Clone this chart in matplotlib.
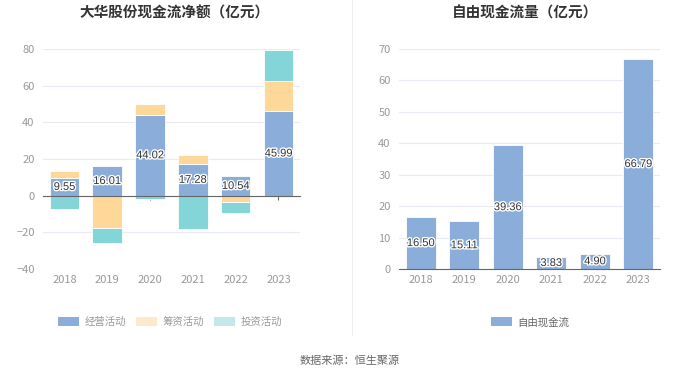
import numpy as np
import matplotlib
matplotlib.use("Agg")
import matplotlib.pyplot as plt
from matplotlib.patches import Patch
from matplotlib.lines import Line2D
import matplotlib.patheffects as pe

plt.rcParams["font.family"] = ["Noto Sans CJK SC", "DejaVu Sans"]

years = ["2018", "2019", "2020", "2021", "2022", "2023"]
operating = [9.55, 16.01, 44.02, 17.28, 10.54, 45.99]
financing = [4.0, -17.8, 6.1, 5.0, -3.3, 16.7]
investing = [-7.3, -8.2, -1.8, -18.4, -6.0, 17.0]
free_cf = [16.50, 15.11, 39.36, 3.83, 4.90, 66.79]

series_names = ["经营活动", "筹资活动", "投资活动"]
bar_colors = ["#8badd9", "#fed899", "#84d5d8"]
legend_colors = ["#8badd9", "#fee9c8", "#c1e9ea"]

GRID = "#e8ebf2"
TICK = "#999999"


def style_axis(ax):
    ax.set_axisbelow(True)
    ax.grid(axis="y", color=GRID, linewidth=0.8)
    for s in ["top", "right", "left"]:
        ax.spines[s].set_visible(False)
    ax.tick_params(axis="y", length=0, labelsize=8, labelcolor=TICK, pad=6)
    ax.tick_params(axis="x", labelsize=8, labelcolor=TICK)


def label(ax, x, y, text):
    ax.text(x, y, text, ha="center", va="center", fontsize=8, color="#333333",
            family="Liberation Sans",
            path_effects=[pe.withStroke(linewidth=2, foreground="white")], zorder=5)


fig = plt.figure(figsize=(7, 3.77), dpi=100)

# left: stacked net cash flow
ax1 = fig.add_axes([0.0614, 0.2865, 0.367, 0.5836])
x = np.arange(len(years))
pos_base = np.zeros(len(years))
neg_base = np.zeros(len(years))
for vals, col in zip([operating, financing, investing], bar_colors):
    v = np.array(vals)
    base = np.where(v >= 0, pos_base, neg_base)
    ax1.bar(x, v, bottom=base, width=0.69, color=col, edgecolor="white", linewidth=0.6, zorder=2)
    pos_base = pos_base + np.where(v >= 0, v, 0)
    neg_base = neg_base + np.where(v < 0, v, 0)
for i, v in enumerate(operating):
    label(ax1, i, v / 2, f"{v:.2f}")
style_axis(ax1)
ax1.set_xlim(-0.5, 5.5)
ax1.set_ylim(-40, 80)
ax1.set_yticks(range(-40, 81, 20))
ax1.set_xticks(x, years)
ax1.spines["bottom"].set_position(("data", 0))
ax1.spines["bottom"].set_color("#666666")
ax1.tick_params(axis="x", length=3, color="#666666", pad=54)

# right: free cash flow
ax2 = fig.add_axes([0.570, 0.2865, 0.373, 0.5836])
ax2.bar(x, free_cf, width=0.69, color=bar_colors[0], edgecolor="white", linewidth=0.6, zorder=2)
for i, v in enumerate(free_cf):
    label(ax2, i, v / 2, f"{v:.2f}")
style_axis(ax2)
ax2.set_xlim(-0.5, 5.5)
ax2.set_ylim(0, 70)
ax2.set_yticks(range(0, 71, 10))
ax2.set_xticks(x, years)
ax2.spines["bottom"].set_color("#666666")
ax2.tick_params(axis="x", length=0, pad=4)

# titles
fig.text(175 / 700, 1 - 13 / 377, "大华股份现金流净额（亿元）", ha="center", va="center",
         fontsize=10.5, fontweight="bold", color="#333333")
fig.text(525 / 700, 1 - 13 / 377, "自由现金流量（亿元）", ha="center", va="center",
         fontsize=10.5, fontweight="bold", color="#333333")

# divider
fig.add_artist(Line2D([352 / 700, 352 / 700], [1, 1 - 335 / 377], color="#eeeeee", linewidth=0.8))

# legends
h1 = [Patch(facecolor=c, edgecolor="none") for c in legend_colors]
fig.legend(h1, series_names, loc="center", bbox_to_anchor=(170 / 700, 1 - 322 / 377), ncol=3,
           frameon=False, fontsize=7.5, labelcolor="#999999", handlelength=2.0, handleheight=1.0,
           columnspacing=1.0, handletextpad=0.5)
fig.legend([Patch(facecolor=bar_colors[0], edgecolor="none")], ["自由现金流"], loc="center",
           bbox_to_anchor=(530 / 700, 1 - 322 / 377), frameon=False, fontsize=7.5,
           labelcolor="#666666", handlelength=2.0, handleheight=1.0, handletextpad=0.5)

fig.text(0.5, 1 - 361 / 377, "数据来源：恒生聚源", ha="center", va="center", fontsize=8, color="#666666")

fig.savefig("out.png", dpi=100, facecolor="white")
